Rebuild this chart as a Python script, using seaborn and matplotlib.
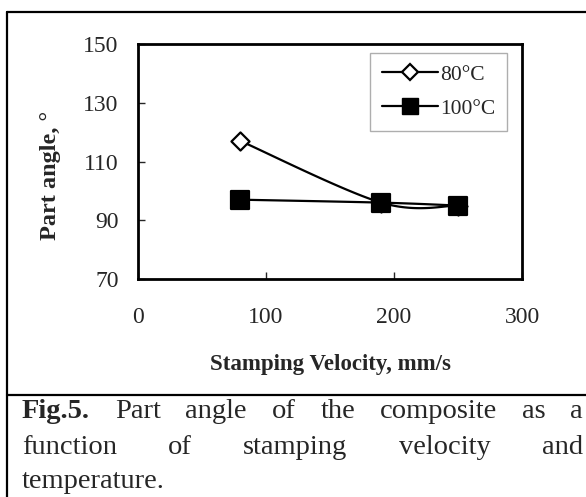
import numpy as np
import pandas as pd
import seaborn as sns
import matplotlib.pyplot as plt
from matplotlib.lines import Line2D

# data
velocity = [80, 190, 250]
angle_80 = [117, 96, 95]
angle_100 = [97, 96, 95]
series_labels = ['80\u00b0C', '100\u00b0C']
x_ticks = [0, 100, 200, 300]
y_ticks = [70, 90, 110, 130, 150]

caption_lines = [
    ['Fig.5.', 'Part', 'angle', 'of', 'the', 'composite', 'as', 'a'],
    ['function', 'of', 'stamping', 'velocity', 'and'],
    ['temperature.'],
]


def excel_smooth(ax, x, y, n=40):
    # bezier smoothing like Excel's "smoothed line", done in pixel space
    pts = ax.transData.transform(np.column_stack([x, y]))
    out = [pts[:1]]
    last = len(pts) - 1
    t = np.linspace(0, 1, n)[1:, None]
    for i in range(last):
        p0, p1, p2, p3 = pts[max(i - 1, 0)], pts[i], pts[i + 1], pts[min(i + 2, last)]
        c1 = p1 + (p2 - p0) / 6
        c2 = p2 - (p3 - p1) / 6
        seg = (1 - t)**3 * p1 + 3 * (1 - t)**2 * t * c1 + 3 * (1 - t) * t**2 * c2 + t**3 * p2
        out.append(seg)
    return ax.transData.inverted().transform(np.vstack(out))


sns.set_style('white')
plt.rcParams['font.family'] = ['Liberation Serif', 'DejaVu Serif']

W, H = 586, 497
fig = plt.figure(figsize=(W / 100, H / 100), dpi=100)
ax = fig.add_axes([138 / W, 1 - 279 / H, (522 - 138) / W, (279 - 44) / H])
ax.set_xlim(0, 300)
ax.set_ylim(70, 150)

for ys, marker, face, size in [(angle_80, 'D', 'white', 85), (angle_100, 's', 'black', 150)]:
    curve = excel_smooth(ax, velocity, ys)
    df = pd.DataFrame({'x': curve[:, 0], 'y': curve[:, 1]})
    sns.lineplot(data=df, x='x', y='y', sort=False, estimator=None,
                 color='black', linewidth=1.6, ax=ax, zorder=2)
    sns.scatterplot(x=velocity, y=ys, marker=marker, s=size, facecolor=face,
                    edgecolor='black', linewidth=1.6, ax=ax, zorder=3)

ax.set_xticks(x_ticks)
ax.set_yticks(y_ticks)
ax.tick_params(axis='both', direction='in', length=5, width=1, labelsize=17,
               bottom=True, left=True, top=False, right=False)
ax.tick_params(axis='x', pad=20)
ax.tick_params(axis='y', pad=14)
for sp in ax.spines.values():
    sp.set_linewidth(2)
    sp.set_color('black')

ax.set_xlabel('Stamping Velocity, mm/s', fontsize=16.5, fontweight='bold')
ax.set_ylabel('Part angle, \u00b0', fontsize=17.5, fontweight='bold')
ax.xaxis.set_label_coords(0.5, -0.32)
ax.yaxis.set_label_coords(-0.2, 0.44)

handles = [
    Line2D([], [], color='black', lw=1.6, marker='D', markersize=8,
           markerfacecolor='white', markeredgecolor='black', markeredgewidth=1.6),
    Line2D([], [], color='black', lw=1.6, marker='s', markersize=11,
           markerfacecolor='black', markeredgecolor='black'),
]
leg = ax.legend(handles, series_labels, loc='upper right', bbox_to_anchor=(0.961, 0.962),
                borderaxespad=0, fontsize=15.5, handlelength=2.6, handletextpad=0.1,
                labelspacing=0.65, borderpad=0.55, fancybox=False, frameon=True)
leg.get_frame().set_edgecolor('#9a9a9a')
leg.get_frame().set_linewidth(1)

# outer frame and caption separator, in pixels
def px_line(xs, ys):
    fig.add_artist(Line2D([x / W for x in xs], [1 - y / H for y in ys],
                          color='black', lw=1.6))

px_line([7, 7], [12, H])
px_line([7, W], [12, 12])
px_line([7, W], [395, 395])

# justified caption
fig.canvas.draw()
renderer = fig.canvas.get_renderer()
x0, x1 = 22, 583
line_y = [412, 448, 482]
for li, (words, y) in enumerate(zip(caption_lines, line_y)):
    texts = []
    for wi, word in enumerate(words):
        bold = (li == 0 and wi == 0)
        t = fig.text(0, 1 - y / H, word, fontsize=20.5, va='center', ha='left',
                     fontweight='bold' if bold else 'normal')
        texts.append(t)
    widths = [t.get_window_extent(renderer).width for t in texts]
    if len(words) > 1 and li < len(caption_lines) - 1:
        gap = (x1 - x0 - sum(widths)) / (len(words) - 1)
    else:
        gap = 5
    pos = x0
    for t, w in zip(texts, widths):
        t.set_x(pos / W)
        pos += w + gap

fig.savefig('out.png', dpi=100)
